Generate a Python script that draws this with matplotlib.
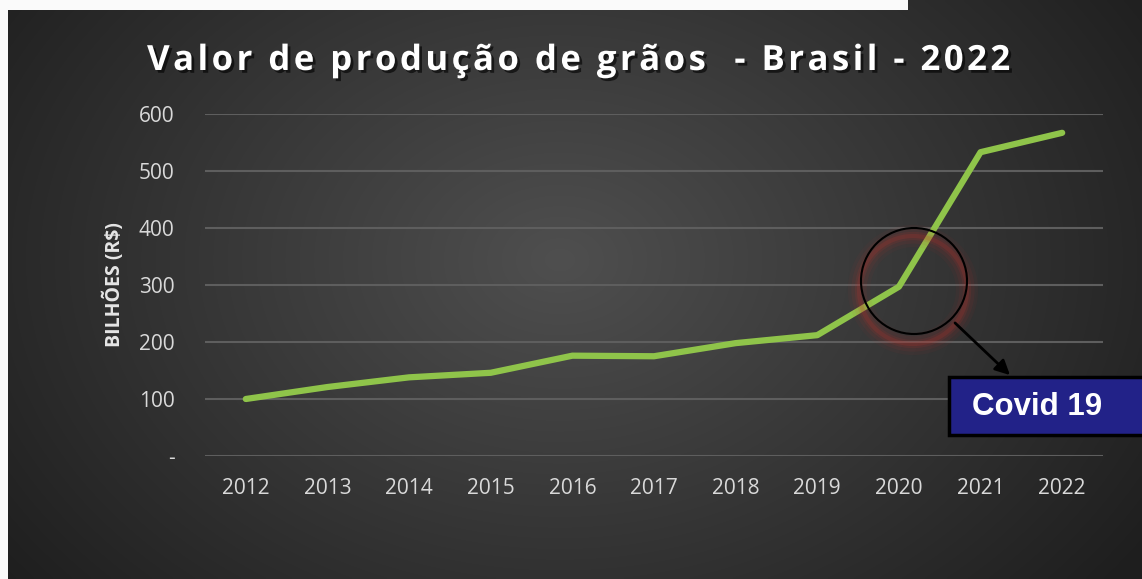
import numpy as np
import matplotlib
matplotlib.use('Agg')
import matplotlib.pyplot as plt
import matplotlib.patheffects as pe
from matplotlib.patches import Rectangle, Circle

# dados (bilhoes R$)
anos = ['2012', '2013', '2014', '2015', '2016', '2017', '2018', '2019', '2020', '2021', '2022']
valores = [100, 121, 138, 146, 176, 175, 198, 212, 297, 533, 567]
yticks = [0, 100, 200, 300, 400, 500, 600]
ytick_labels = ['-', '100', '200', '300', '400', '500', '600']
titulo = 'Valor de produção de grãos  - Brasil - 2022'

W, H = 1142, 579
fig = plt.figure(figsize=(W / 100, H / 100), dpi=100)

# fundo com gradiente radial
bg = fig.add_axes([0, 0, 1, 1], zorder=0)
bg.set_xlim(0, W); bg.set_ylim(H, 0); bg.axis('off')
xx, yy = np.meshgrid(np.linspace(0, W, 400), np.linspace(0, H, 200))
d = np.sqrt(((xx - 560) / 700) ** 2 + ((yy - 260) / 520) ** 2)
g = np.clip(0.31 - 0.19 * d, 0.12, 0.4)
bg.imshow(np.dstack([g, g, g]), extent=(0, W, H, 0), aspect='auto', interpolation='bilinear')
bg.add_patch(Rectangle((0, 0), 908, 10, color='#fafafa', lw=0))
bg.add_patch(Rectangle((0, 0), 8, H, color='#fafafa', lw=0))

# titulo com espacamento entre letras (hair space)
titulo_esp = '\u200a'.join(titulo)
fig.text(579 / W, 1 - 61 / H, titulo_esp,
         ha='center', va='center', color='white', fontsize=25, fontweight='bold',
         family=['Open Sans', 'DejaVu Sans'],
         path_effects=[pe.withSimplePatchShadow(offset=(2, -2), shadow_rgbFace='black', alpha=0.6)])

# eixo principal
ax = fig.add_axes([205 / W, (H - 456) / H, 898 / W, 342 / H], zorder=1)
ax.patch.set_alpha(0)
x = np.arange(len(anos))
ax.plot(x, valores, color='#8fc44a', lw=4.5, solid_capstyle='round', solid_joinstyle='round', zorder=3)
ax.set_xlim(-0.5, len(anos) - 0.5)
ax.set_ylim(0, 600)
ax.set_yticks(yticks)
ax.set_yticklabels(ytick_labels)
ax.set_xticks(x)
ax.set_xticklabels(anos)
ax.grid(axis='y', color='#5e5e5e', lw=1.5)
ax.set_axisbelow(True)
for s in ax.spines.values():
    s.set_visible(False)
ax.tick_params(length=0, colors='#d9d9d9', labelsize=15)
ax.tick_params(axis='y', pad=22)
ax.tick_params(axis='x', pad=16)
for lab in ax.get_xticklabels() + ax.get_yticklabels():
    lab.set_family('Open Sans')
ax.set_ylabel('BILHÕES (R$)', color='#e6e6e6', fontsize=14, fontweight='bold',
              family='Open Sans', labelpad=10)

# anotacao covid
ov = fig.add_axes([0, 0, 1, 1], zorder=2)
ov.set_xlim(0, W); ov.set_ylim(H, 0); ov.axis('off')
for r, lw, a in [(54, 16, 0.05), (54, 11, 0.08), (54, 6, 0.12), (54, 3, 0.18)]:
    ov.add_patch(Circle((913, 290), r, fill=False, ec='#c0302a', lw=lw, alpha=a))
ov.add_patch(Circle((914, 281), 53, fill=False, ec='black', lw=1.5))
ov.annotate('', xy=(1012, 377), xytext=(953, 321),
            arrowprops=dict(arrowstyle='-|>', color='black', lw=2, mutation_scale=22))
ov.add_patch(Rectangle((949, 377), 200, 58, fc='#222288', ec='black', lw=2.5))
ov.text(972, 407, 'Covid 19', color='white', fontsize=22.5, fontweight='bold',
        family='Liberation Sans', ha='left', va='center')

fig.savefig('out.png', dpi=100)
